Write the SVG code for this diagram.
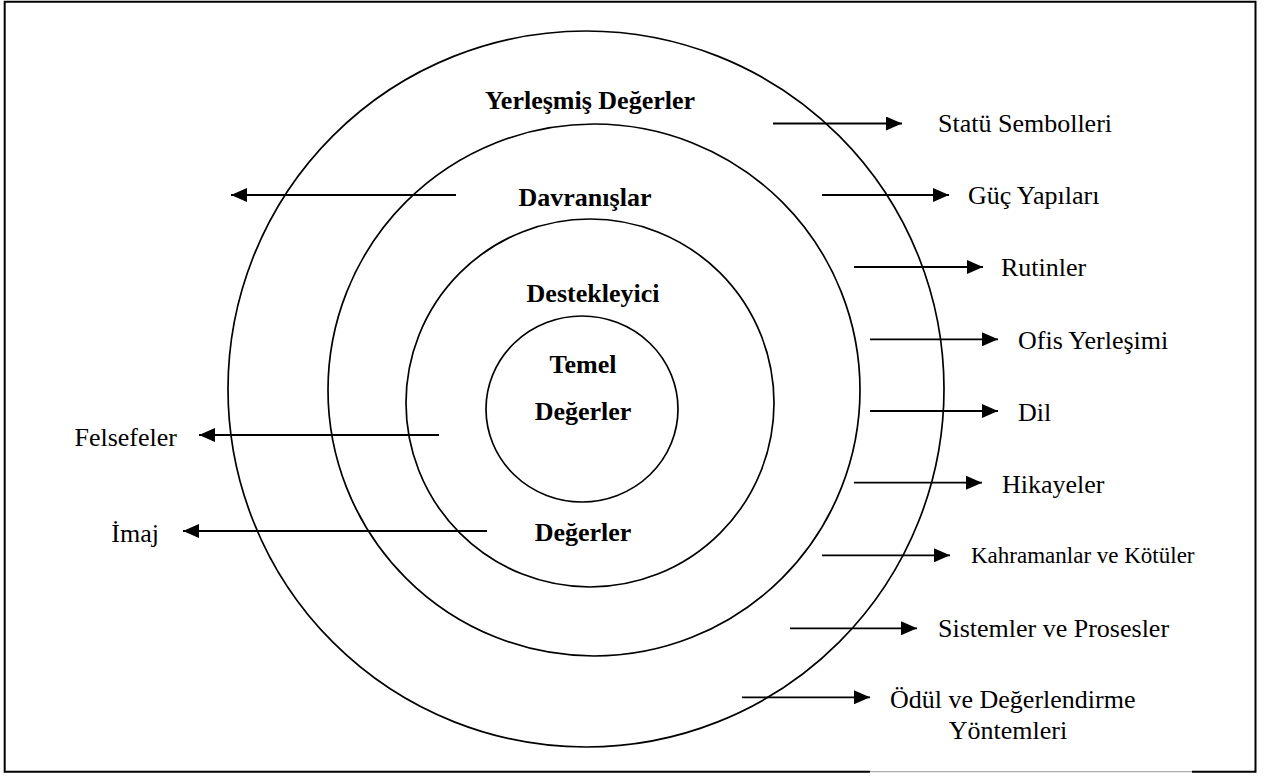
<svg xmlns="http://www.w3.org/2000/svg" width="1267" height="776" viewBox="0 0 1267 776">
<defs>
<marker id="ah" markerUnits="userSpaceOnUse" markerWidth="16" markerHeight="14" refX="16" refY="7" orient="auto">
<path d="M0,0 L16,7 L0,14 z" fill="#000"/>
</marker>
<style>
.ring{fill:none;stroke:#000;stroke-width:1.7}
.arr{stroke:#000;stroke-width:1.8;fill:none;marker-end:url(#ah)}
.lbl{font-family:"Liberation Serif","Times New Roman",serif;font-size:26px;fill:#000}
.b{font-weight:bold;text-anchor:middle}
</style>
</defs>
<rect width="1267" height="776" fill="#fff"/>
<g id="frame">
<path d="M870,771.7 H4.7 V1.7 H1255.5 V771.7 H1192" fill="none" stroke="#000" stroke-width="2"/>
<line x1="870" y1="771.7" x2="1192" y2="771.7" stroke="#999" stroke-width="1"/>
</g>
<g id="rings">
<g id="ring-outer"><circle class="ring" cx="586" cy="389" r="358"/></g>
<g id="ring-behaviour"><circle class="ring" cx="594" cy="390" r="266"/></g>
<g id="ring-supporting"><circle class="ring" cx="590" cy="403" r="184"/></g>
<g id="ring-core"><ellipse class="ring" cx="582" cy="409" rx="96" ry="93"/></g>
</g>
<g id="ring-labels">
<text class="lbl b" x="590" y="109">Yerleşmiş Değerler</text>
<text class="lbl b" x="585" y="206">Davranışlar</text>
<text class="lbl b" x="593" y="302">Destekleyici</text>
<text class="lbl b" x="583" y="373">Temel</text>
<text class="lbl b" x="583" y="420">Değerler</text>
<text class="lbl b" x="583" y="541">Değerler</text>
</g>
<g id="connectors">
<line class="arr" x1="456" y1="195" x2="231" y2="195"/>
<line class="arr" x1="439" y1="435" x2="199" y2="435"/>
<line class="arr" x1="487" y1="531" x2="183" y2="531"/>
<line class="arr" x1="773" y1="123.5" x2="902" y2="123.5"/>
<line class="arr" x1="822" y1="195" x2="949" y2="195"/>
<line class="arr" x1="854" y1="267" x2="983" y2="267"/>
<line class="arr" x1="870" y1="339.3" x2="998" y2="339.3"/>
<line class="arr" x1="870" y1="411" x2="998" y2="411"/>
<line class="arr" x1="854" y1="482.7" x2="982" y2="482.7"/>
<line class="arr" x1="822" y1="555.3" x2="950" y2="555.3"/>
<line class="arr" x1="790" y1="628.3" x2="917" y2="628.3"/>
<line class="arr" x1="742" y1="697.3" x2="870" y2="697.3"/>
</g>
<g id="left-labels">
<g id="felsefeler"><text class="lbl" x="177" y="446" text-anchor="end">Felsefeler</text></g>
<g id="imaj"><text class="lbl" x="159" y="542" text-anchor="end">İmaj</text></g>
</g>
<g id="right-labels">
<g id="statu"><text class="lbl" x="938" y="132">Statü Sembolleri</text></g>
<g id="guc"><text class="lbl" x="968" y="204">Güç Yapıları</text></g>
<g id="rutinler"><text class="lbl" x="1001" y="276">Rutinler</text></g>
<g id="ofis"><text class="lbl" x="1018" y="349">Ofis Yerleşimi</text></g>
<g id="dil"><text class="lbl" x="1018" y="421">Dil</text></g>
<g id="hikayeler"><text class="lbl" x="1002" y="493">Hikayeler</text></g>
<g id="kahraman"><text class="lbl" x="971" y="563" style="font-size:23px">Kahramanlar ve Kötüler</text></g>
<g id="sistemler"><text class="lbl" x="938" y="637">Sistemler ve Prosesler</text></g>
<g id="odul"><text class="lbl" x="890" y="708">Ödül ve Değerlendirme</text><text class="lbl" x="1008" y="739" text-anchor="middle">Yöntemleri</text></g>
</g>
</svg>
